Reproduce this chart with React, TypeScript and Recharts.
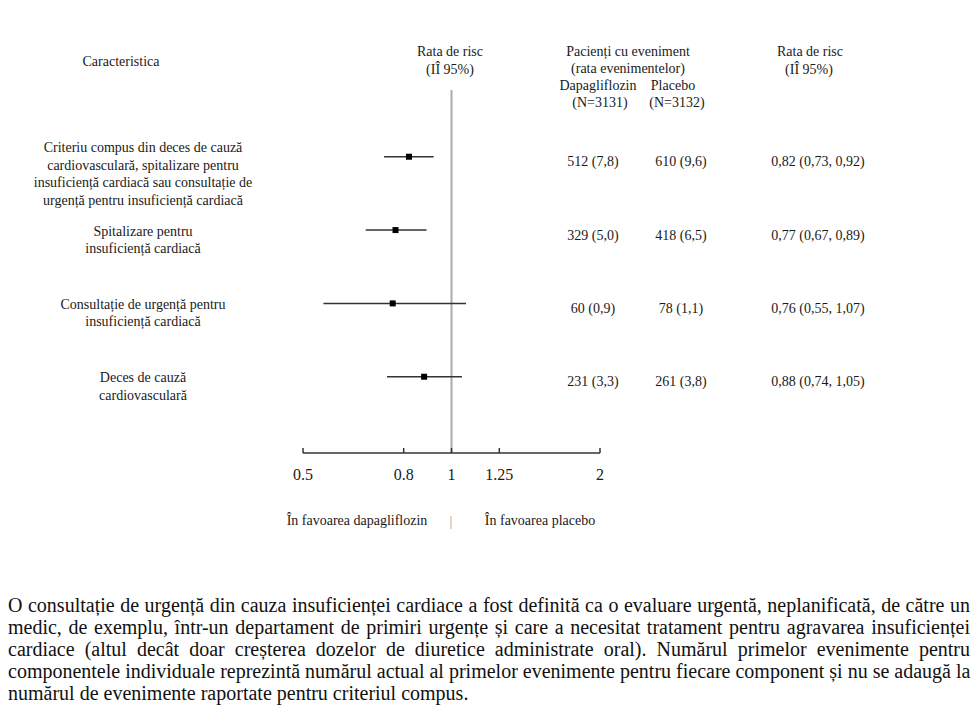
import React from "react";
import {
  ScatterChart,
  Scatter,
  XAxis,
  YAxis,
  ErrorBar,
  ReferenceLine,
} from "recharts";

// rows of the forest plot, top to bottom
const rowLabels = [
  [
    "Criteriu compus din deces de cauză",
    "cardiovasculară, spitalizare pentru",
    "insuficiență cardiacă sau consultație de",
    "urgență pentru insuficiență cardiacă",
  ],
  ["Spitalizare pentru", "insuficiență cardiacă"],
  ["Consultație de urgență pentru", "insuficiență cardiacă"],
  ["Deces de cauză", "cardiovasculară"],
];
const hazardRatio = [0.82, 0.77, 0.76, 0.88];
const ciLow = [0.73, 0.67, 0.55, 0.74];
const ciHigh = [0.92, 0.89, 1.07, 1.05];
const dapaEvents = ["512 (7,8)", "329 (5,0)", "60 (0,9)", "231 (3,3)"];
const placeboEvents = ["610 (9,6)", "418 (6,5)", "78 (1,1)", "261 (3,8)"];
const hrText = [
  "0,82 (0,73, 0,92)",
  "0,77 (0,67, 0,89)",
  "0,76 (0,55, 1,07)",
  "0,88 (0,74, 1,05)",
];
const xTicks = [0.5, 0.8, 1, 1.25, 2];

const footnote = [
  "O consultație de urgență din cauza insuficienței cardiace a fost definită ca o evaluare urgentă, neplanificată, de către un",
  "medic, de exemplu, într-un departament de primiri urgențe și care a necesitat tratament pentru agravarea insuficienței",
  "cardiace (altul decât doar creșterea dozelor de diuretice administrate oral). Numărul primelor evenimente pentru",
  "componentele individuale reprezintă numărul actual al primelor evenimente pentru fiecare component și nu se adaugă la",
  "numărul de evenimente raportate pentru criteriul compus.",
];

const data = hazardRatio.map((hr, i) => ({
  row: i + 1,
  hr,
  err: [hr - ciLow[i], ciHigh[i] - hr],
}));

const FONT = "'Liberation Serif', 'Times New Roman', serif";
const INK = "#1a1a1a";

function RowTick(props: any) {
  const { y, payload } = props;
  const i = payload.value - 1;
  const lines = rowLabels[i] || [];
  const y0 = y + 1 - (lines.length - 2) * 5;
  return (
    <g fontFamily={FONT} fontSize={14} fill={INK}>
      {lines.map((l, k) => (
        <text key={k} x={143} y={y0 + k * 17.5} textAnchor="middle" dominantBaseline="central">
          {l}
        </text>
      ))}
      <text x={593} y={y + 5} textAnchor="middle" dominantBaseline="central">
        {dapaEvents[i]}
      </text>
      <text x={681} y={y + 5} textAnchor="middle" dominantBaseline="central">
        {placeboEvents[i]}
      </text>
      <text x={818} y={y + 5} textAnchor="middle" dominantBaseline="central">
        {hrText[i]}
      </text>
    </g>
  );
}

function Square(props: any) {
  const { cx, cy } = props;
  return <rect x={cx - 3} y={cy - 3} width={6} height={6} fill="#000" />;
}

function Txt({ x, y, children, size = 14, color = INK }: any) {
  return (
    <div
      style={{
        position: "absolute",
        left: x,
        top: y,
        transform: "translate(-50%, -50%)",
        whiteSpace: "nowrap",
        fontFamily: FONT,
        fontSize: size,
        color,
        lineHeight: 1.2,
      }}
    >
      {children}
    </div>
  );
}

export default function App() {
  return (
    <div style={{ position: "absolute", left: 0, top: 0, width: 980, height: 714, background: "#fff" }}>
      <ScatterChart width={980} height={714} margin={{ top: 90, right: 380, bottom: 231, left: 23 }}>
        <XAxis
          type="number"
          dataKey="hr"
          scale="log"
          domain={[0.5, 2]}
          ticks={xTicks}
          allowDataOverflow
          interval={0}
          height={30}
          tickSize={-5}
          tickMargin={21}
          axisLine={{ stroke: "#333", strokeWidth: 1.5 }}
          tickLine={{ stroke: "#333", strokeWidth: 1.5 }}
          tick={{ fill: INK, fontSize: 16, fontFamily: FONT }}
          tickFormatter={(v: number) => String(v)}
        />
        <YAxis
          type="number"
          dataKey="row"
          domain={[0.09, 5.04]}
          reversed
          allowDataOverflow
          ticks={[1, 2, 3, 4]}
          interval={0}
          width={280}
          axisLine={false}
          tickLine={false}
          tick={(p: any) => <RowTick {...p} />}
        />
        <ReferenceLine x={1} stroke="#aaa" strokeWidth={2} />
        <Scatter data={data} shape={<Square />} isAnimationActive={false}>
          <ErrorBar dataKey="err" direction="x" width={0} stroke="#333" strokeWidth={1.5} />
        </Scatter>
      </ScatterChart>

      <Txt x={121} y={62}>Caracteristica</Txt>
      <Txt x={450} y={52}>Rata de risc</Txt>
      <Txt x={450} y={70}>(IÎ 95%)</Txt>
      <Txt x={628} y={52}>Pacienți cu eveniment</Txt>
      <Txt x={628} y={69}>(rata evenimentelor)</Txt>
      <Txt x={598} y={86}>Dapagliflozin</Txt>
      <Txt x={673} y={86}>Placebo</Txt>
      <Txt x={600} y={103}>(N=3131)</Txt>
      <Txt x={677} y={103}>(N=3132)</Txt>
      <Txt x={810} y={52}>Rata de risc</Txt>
      <Txt x={809} y={70}>(IÎ 95%)</Txt>

      <Txt x={357} y={521}>În favoarea dapagliflozin</Txt>
      <Txt x={451} y={522} color="#999">|</Txt>
      <Txt x={540} y={521}>În favoarea placebo</Txt>

      <div style={{ position: "absolute", left: 8, top: 594, width: 962, fontFamily: FONT, fontSize: 20, lineHeight: "22px", color: "#111" }}>
        {footnote.map((l, k) => (
          <div
            key={k}
            style={{
              whiteSpace: "nowrap",
              textAlign: k < footnote.length - 1 ? "justify" : "left",
              textAlignLast: k < footnote.length - 1 ? "justify" : "left",
            }}
          >
            {l}
          </div>
        ))}
      </div>
    </div>
  );
}
